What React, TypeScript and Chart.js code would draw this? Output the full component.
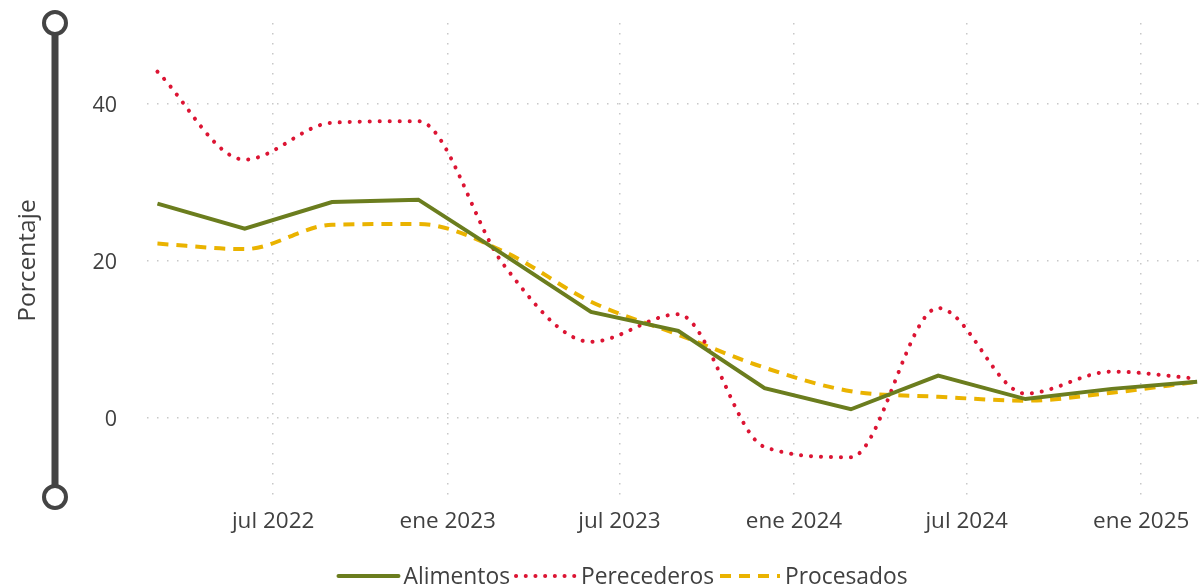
import React, { useEffect, useRef } from "react";
import { Chart, registerables } from "chart.js";

Chart.register(...registerables);

const periods = [
  "2022-03-01", "2022-06-01", "2022-09-01", "2022-12-01",
  "2023-03-01", "2023-06-01", "2023-09-01", "2023-12-01",
  "2024-03-01", "2024-06-01", "2024-09-01", "2024-12-01",
  "2025-03-01",
];
const alimentos = [27.3, 24.1, 27.5, 27.8, 20.8, 13.5, 11.1, 3.8, 1.1, 5.4, 2.4, 3.7, 4.6];
const perecederos = [44.1, 32.9, 37.6, 37.8, 19.5, 9.7, 13.2, -3.7, -5.0, 14.0, 3.1, 5.9, 5.0];
const procesados = [22.2, 21.5, 24.6, 24.7, 21.2, 14.8, 10.6, 6.4, 3.4, 2.7, 2.2, 3.2, 4.6];

const xTickDates = ["2022-07-01", "2023-01-01", "2023-07-01", "2024-01-01", "2024-07-01", "2025-01-01"];
const xTickLabels = ["jul 2022", "ene 2023", "jul 2023", "ene 2024", "jul 2024", "ene 2025"];
const yTicks = [0, 20, 40];
const xRange = ["2022-02-18", "2025-03-04"];
const yRange = [-10.2, 50.3];

const toDay = (s: string) => Date.parse(s + "T00:00:00Z") / 86400000;

const FONT = "'Segoe UI', 'Open Sans', 'Noto Sans', sans-serif";
const TEXT = "#404040";

const GREEN = "#6B7D1E";
const RED = "#DC1433";
const YELLOW = "#EAB300";

const sliderPlugin = {
  id: "slider",
  afterDraw(chart: any) {
    const { ctx, chartArea } = chart;
    const x = 55;
    const r = 11;
    const top = chartArea.top;
    const bottom = chartArea.bottom - 1;
    ctx.save();
    ctx.strokeStyle = "#444444";
    ctx.lineWidth = 7;
    ctx.beginPath();
    ctx.moveTo(x, top + r);
    ctx.lineTo(x, bottom - r);
    ctx.stroke();
    ctx.lineWidth = 4;
    ctx.fillStyle = "#ffffff";
    for (const cy of [top, bottom]) {
      ctx.beginPath();
      ctx.arc(x, cy, r, 0, Math.PI * 2);
      ctx.fill();
      ctx.stroke();
    }
    ctx.restore();
  },
};

// Legend drawn from the chart's own datasets (label, colour, dash, width)
const lineLegendPlugin = {
  id: "lineLegend",
  afterDraw(chart: any) {
    const { ctx } = chart;
    const y = 576;
    const sampleW = 63;
    const gap = 4;
    ctx.save();
    ctx.font = `22.8px ${FONT}`;
    ctx.textBaseline = "middle";
    ctx.textAlign = "left";
    const items = chart.data.datasets.map((ds: any) => ({
      ds,
      w: ctx.measureText(ds.label).width,
    }));
    const total = items.reduce((s: number, it: any) => s + sampleW + gap + it.w + gap, 0) - gap;
    let x = 622 - total / 2;
    for (const it of items) {
      const ds = it.ds;
      ctx.strokeStyle = ds.borderColor;
      ctx.lineWidth = ds.borderWidth;
      ctx.lineCap = ds.borderCapStyle === "round" || !ds.borderDash ? "round" : "butt";
      ctx.setLineDash(ds.borderDash ? (ds.borderCapStyle === "round" ? [0.1, 9.6] : ds.borderDash) : []);
      ctx.beginPath();
      ctx.moveTo(x + 2, y);
      ctx.lineTo(x + sampleW - 1, y);
      ctx.stroke();
      ctx.setLineDash([]);
      ctx.fillStyle = TEXT;
      ctx.fillText(ds.label, x + sampleW + gap, y + 2);
      x += sampleW + gap + it.w + gap;
    }
    ctx.restore();
  },
};

export default function App() {
  const ref = useRef<HTMLCanvasElement | null>(null);
  useEffect(() => {
    if (!ref.current) return;
    const xs = periods.map(toDay);
    const mk = (arr: number[]) => arr.map((v, i) => ({ x: xs[i], y: v }));
    const chart = new Chart(ref.current, {
      type: "line",
      data: {
        datasets: [
          {
            label: "Alimentos",
            data: mk(alimentos),
            borderColor: GREEN,
            backgroundColor: GREEN,
            borderWidth: 4,
            pointRadius: 0,
            tension: 0,
          },
          {
            label: "Perecederos",
            data: mk(perecederos),
            borderColor: RED,
            backgroundColor: RED,
            borderWidth: 4,
            borderDash: [0.1, 9.9],
            borderCapStyle: "round",
            pointRadius: 0,
            cubicInterpolationMode: "monotone",
          },
          {
            label: "Procesados",
            data: mk(procesados),
            borderColor: YELLOW,
            backgroundColor: YELLOW,
            borderWidth: 4,
            borderDash: [11, 8],
            pointRadius: 0,
            cubicInterpolationMode: "monotone",
          },
        ],
      },
      options: {
        animation: false,
        responsive: false,
        maintainAspectRatio: false,
        layout: { padding: { left: 0, right: 0, top: 23, bottom: 0 } },
        plugins: {
          tooltip: { enabled: false },
          legend: { display: false },
        },
        scales: {
          x: {
            type: "linear",
            min: toDay(xRange[0]),
            max: toDay(xRange[1]),
            afterBuildTicks: (scale: any) => {
              scale.ticks = xTickDates.map((d) => ({ value: toDay(d) }));
            },
            afterFit: (scale: any) => {
              scale.height = 90;
            },
            ticks: {
              autoSkip: false,
              maxRotation: 0,
              padding: 10.5,
              color: TEXT,
              font: { family: FONT, size: 22.5 },
              callback: (_v: any, i: number) => xTickLabels[i],
            },
            grid: { color: "#c8c8c8", lineWidth: 1.5, drawTicks: false },
            border: { display: false, dash: [1.5, 8.5] },
          },
          y: {
            min: yRange[0],
            max: yRange[1],
            afterBuildTicks: (scale: any) => {
              scale.ticks = yTicks.map((v) => ({ value: v }));
            },
            afterFit: (scale: any) => {
              scale.width = 147;
            },
            ticks: {
              padding: 0,
              labelOffset: 2,
              color: TEXT,
              font: { family: FONT, size: 21.5 },
            },
            title: {
              display: true,
              text: "Porcentaje",
              color: TEXT,
              padding: { top: 13, bottom: 0 },
              font: { family: FONT, size: 24.5 },
            },
            grid: {
              color: "#c8c8c8",
              lineWidth: 1.5,
              drawTicks: true,
              tickLength: 30,
              tickColor: "rgba(0,0,0,0)",
            },
            border: { display: false, dash: [1.5, 8.5] },
          },
        },
      },
      plugins: [sliderPlugin, lineLegendPlugin],
    } as any);
    return () => chart.destroy();
  }, []);
  return (
    <div style={{ position: "fixed", left: 0, top: 0, width: 1200, height: 588, background: "#fff" }}>
      <canvas ref={ref} width={1200} height={588} style={{ width: 1200, height: 588 }} />
    </div>
  );
}
